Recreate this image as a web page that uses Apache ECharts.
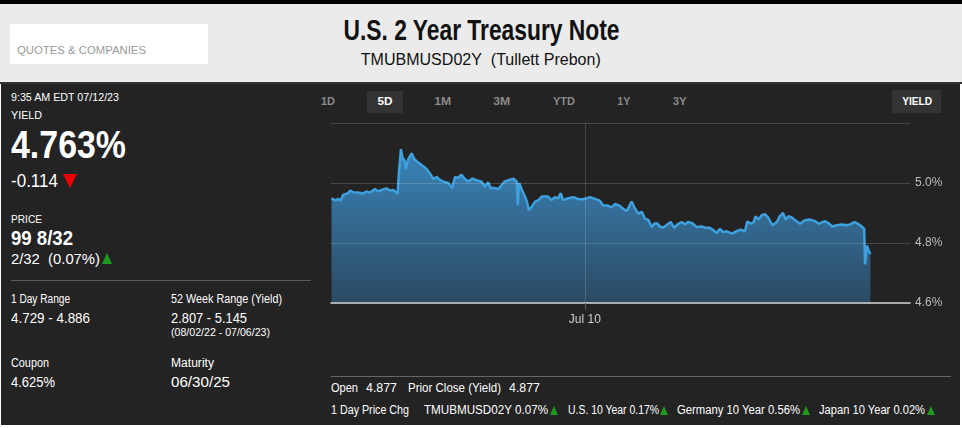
<!DOCTYPE html>
<html>
<head>
<meta charset="utf-8">
<script src="https://cdn.jsdelivr.net/npm/echarts@6/dist/echarts.min.js"></script>
<style>
html,body{margin:0;padding:0;width:962px;height:428px;overflow:hidden;background:#fff;}
body{position:relative;font-family:"Liberation Sans",Arial,sans-serif;}
#topbar{position:absolute;left:0;top:0;width:962px;height:4px;background:#000;}
#header{position:absolute;left:0;top:4px;width:962px;height:78px;background:#ebebeb;border-bottom:2px solid #333;}
#qc{position:absolute;left:10px;top:20px;width:198px;height:40px;background:#fff;}
#panel{position:absolute;left:1px;top:84px;width:959px;height:341px;background:#232323;}
.t{position:absolute;white-space:nowrap;color:#fff;line-height:1;}
.b{font-weight:bold;}
.btn{position:absolute;top:96px;font-size:11px;line-height:1;font-weight:bold;color:#8a8a8a;white-space:nowrap;}
.tri{position:absolute;width:0;height:0;border-left:4px solid transparent;border-right:4px solid transparent;border-bottom:9px solid #1f9a1f;}
#chart{position:absolute;left:0;top:0;width:962px;height:428px;}
</style>
</head>
<body>
<div id="topbar"></div>
<div id="header">
  <div id="qc"></div>
</div>
<div class="t" style="left:17px;top:45px;font-size:11.5px;color:#9a9a9a;" data-w="129">QUOTES &amp; COMPANIES</div>
<div class="t b" style="top:15px;font-size:30px;color:#111;" data-w="276" data-c="481">U.S. 2 Year Treasury Note</div>
<div class="t" style="top:52px;font-size:16px;color:#111;" data-w="240" data-c="481">TMUBMUSD02Y&nbsp;&nbsp;(Tullett Prebon)</div>
<div id="panel"></div>

<div class="t" style="left:11px;top:91.5px;font-size:11px;" data-w="108">9:35 AM EDT 07/12/23</div>
<div class="t" style="left:11px;top:109.5px;font-size:11px;" data-w="31">YIELD</div>
<div class="t b" style="left:11px;top:125px;font-size:39px;" data-w="115">4.763%</div>
<div class="t" style="left:11px;top:172px;font-size:18.5px;" data-w="47">-0.114</div>
<div style="position:absolute;left:63px;top:174px;width:0;height:0;border-left:7px solid transparent;border-right:7px solid transparent;border-top:14px solid #e00;"></div>
<div class="t" style="left:11px;top:213.5px;font-size:11px;" data-w="31">PRICE</div>
<div class="t b" style="left:11px;top:229px;font-size:19.5px;" data-w="62">99 8/32</div>
<div class="t" style="left:11px;top:252px;font-size:14px;" data-w="89">2/32&nbsp;&nbsp;(0.07%)</div>
<div style="position:absolute;left:102px;top:253px;width:0;height:0;border-left:5.5px solid transparent;border-right:5.5px solid transparent;border-bottom:11px solid #1f9a1f;"></div>
<div style="position:absolute;left:11px;top:280px;width:300px;height:1px;background:#5c5c5c;"></div>
<div class="t" style="left:11px;top:293px;font-size:12px;" data-w="59">1 Day Range</div>
<div class="t" style="left:11px;top:309.5px;font-size:15px;" data-w="79">4.729 - 4.886</div>
<div class="t" style="left:171px;top:293px;font-size:12px;" data-w="111">52 Week Range (Yield)</div>
<div class="t" style="left:171px;top:309.5px;font-size:15px;" data-w="76">2.807 - 5.145</div>
<div class="t" style="left:171px;top:327px;font-size:10.5px;" data-w="99">(08/02/22 - 07/06/23)</div>
<div class="t" style="left:11px;top:356.5px;font-size:12px;" data-w="38">Coupon</div>
<div class="t" style="left:11px;top:373.5px;font-size:15px;" data-w="44">4.625%</div>
<div class="t" style="left:171px;top:356.5px;font-size:12px;" data-w="43">Maturity</div>
<div class="t" style="left:171px;top:373.5px;font-size:15px;" data-w="59">06/30/25</div>

<div class="btn" data-w="14" data-c="328">1D</div>
<div style="position:absolute;left:367px;top:91px;width:36px;height:22px;background:#333;"></div>
<div class="btn" style="color:#fff;" data-w="15" data-c="385">5D</div>
<div class="btn" data-w="17" data-c="443">1M</div>
<div class="btn" data-w="17" data-c="502">3M</div>
<div class="btn" data-w="22" data-c="564">YTD</div>
<div class="btn" data-w="13" data-c="624">1Y</div>
<div class="btn" data-w="14" data-c="680">3Y</div>
<div style="position:absolute;left:892px;top:90px;width:49px;height:23px;background:#333;"></div>
<div class="btn" style="color:#fff;" data-w="30" data-c="917">YIELD</div>

<div style="position:absolute;left:331px;top:376px;width:620px;height:1px;background:#666;"></div>
<div class="t" style="left:331px;top:382px;font-size:12.5px;" data-w="27">Open</div>
<div class="t" style="left:366px;top:382px;font-size:12.5px;" data-w="31">4.877</div>
<div class="t" style="left:408px;top:382px;font-size:12.5px;" data-w="93">Prior Close (Yield)</div>
<div class="t" style="left:509px;top:382px;font-size:12.5px;" data-w="31">4.877</div>
<div class="t" style="left:331px;top:404px;font-size:12.5px;" data-w="78">1 Day Price Chg</div>
<div class="t" style="left:424px;top:404px;font-size:12.5px;" data-w="124">TMUBMUSD02Y 0.07%</div>
<div class="tri" style="left:550px;top:406px;"></div>
<div class="t" style="left:568px;top:404px;font-size:12.5px;" data-w="91">U.S. 10 Year 0.17%</div>
<div class="tri" style="left:660px;top:406px;"></div>
<div class="t" style="left:677px;top:404px;font-size:12.5px;" data-w="123">Germany 10 Year 0.56%</div>
<div class="tri" style="left:802px;top:406px;"></div>
<div class="t" style="left:819px;top:404px;font-size:12.5px;" data-w="106">Japan 10 Year 0.02%</div>
<div class="tri" style="left:927px;top:406px;"></div>

<div id="chart"></div>
<script>
// fit condensed text widths (layout only)
document.querySelectorAll('[data-w]').forEach(function(el){
  var w = el.getBoundingClientRect().width;
  var target = parseFloat(el.getAttribute('data-w'));
  var s = target / w;
  var c = el.getAttribute('data-c');
  if (c !== null) {
    el.style.left = (parseFloat(c) - w/2) + 'px';
    el.style.transformOrigin = '50% 0';
  } else {
    el.style.transformOrigin = '0 0';
  }
  el.style.transform = 'scaleX(' + s.toFixed(4) + ')';
});

// Trading hours elapsed since start of the 5-day window (weekend removed)
const hours = [0.1,0.8,1.5,2.0,2.5,3.5,4.0,4.6,5.6,6.7,7.3,8.1,9.1,9.8,10.5,11.5,12.2,12.9,13.8,14.1,14.5,14.8,15.3,15.5,16.0,16.7,17.3,18.1,19.1,19.8,20.5,21.2,21.9,22.5,23.2,24.3,25.1,25.7,26.4,27.0,27.7,28.4,29.3,30.2,31.2,31.9,32.6,33.1,34.0,34.7,35.4,36.0,37.1,37.8,38.2,38.5,38.7,39.0,39.3,39.7,40.2,40.6,41.0,41.6,42.3,43.0,43.7,44.4,45.0,45.7,46.4,47.1,47.6,48.1,49.2,50.2,51.2,52.3,53.7,54.7,55.7,56.4,57.5,58.2,58.9,59.9,60.6,61.3,62.3,63.0,63.7,64.4,65.1,65.8,66.5,67.0,67.5,68.2,68.8,69.5,70.4,71.1,72.0,72.7,73.4,74.0,74.9,75.8,76.8,77.5,78.4,79.2,79.9,80.6,81.3,82.0,83.1,84.0,84.9,85.8,86.3,87.0,87.6,88.0,88.6,89.3,89.9,90.6,91.5,92.4,93.0,93.7,94.2,94.8,95.5,96.2,97.2,98.2,99.3,100.3,101.1,102.3,103.1,103.9,104.8,105.9,106.9,107.6,108.5,109.4,110.0,110.5,110.7,111.1,111.4,111.8];
const yields = [4.949,4.942,4.947,4.941,4.960,4.966,4.975,4.969,4.968,4.965,4.972,4.968,4.980,4.972,4.977,4.982,4.975,4.977,4.964,5.039,5.113,5.085,5.073,5.045,5.079,5.099,5.079,5.068,5.056,5.047,5.032,5.014,5.020,5.011,5.005,5.000,4.983,5.020,5.017,5.028,5.014,5.005,5.015,5.009,5.004,4.988,5.002,4.983,4.983,4.980,4.994,5.005,5.011,5.014,5.020,5.005,4.926,5.000,5.002,4.972,4.955,4.938,4.909,4.921,4.938,4.943,4.955,4.955,4.955,4.943,4.953,4.949,4.966,4.943,4.949,4.953,4.947,4.946,4.953,4.947,4.941,4.926,4.924,4.919,4.930,4.924,4.913,4.907,4.938,4.915,4.898,4.904,4.881,4.876,4.853,4.864,4.866,4.855,4.851,4.859,4.870,4.851,4.864,4.870,4.862,4.870,4.866,4.853,4.855,4.851,4.851,4.844,4.833,4.847,4.836,4.839,4.831,4.839,4.844,4.839,4.872,4.864,4.870,4.889,4.878,4.893,4.896,4.885,4.859,4.870,4.889,4.900,4.878,4.889,4.885,4.876,4.864,4.876,4.878,4.873,4.864,4.873,4.866,4.855,4.859,4.862,4.859,4.862,4.870,4.862,4.855,4.847,4.729,4.791,4.776,4.763];
const xTickValues = [52.6];
const xTickLabels = ['Jul 10'];
const xMin = 0, xMax = 120;
const yMin = 4.6, yMax = 5.2, yStep = 0.2;

const chart = echarts.init(document.getElementById('chart'), null, {renderer:'canvas'});
chart.setOption({
  animation:false,
  backgroundColor:'transparent',
  grid:{left:331,right:52,top:123,bottom:125},
  xAxis:{
    type:'value', min:xMin, max:xMax, z:3,
    axisLine:{show:true,lineStyle:{color:'#d0d0d0',width:1.5}},
    axisTick:{show:true,customValues:xTickValues,length:7,lineStyle:{color:'#5a5a5a'}},
    axisLabel:{customValues:xTickValues,margin:11,color:'#cfcfcf',fontSize:12,fontFamily:'Liberation Sans, Arial, sans-serif',
      formatter:function(v){const i=xTickValues.indexOf(v);return i>=0?xTickLabels[i]:'';}},
    splitLine:{show:true,lineStyle:{color:'rgba(255,255,255,0.16)',width:1}}
  },
  yAxis:{
    type:'value', position:'right', min:yMin, max:yMax, interval:yStep, z:3,
    axisLine:{show:false}, axisTick:{show:false},
    axisLabel:{margin:5,color:'#bdbdbd',fontSize:12,fontFamily:'Liberation Sans, Arial, sans-serif',showMaxLabel:false,
      formatter:function(v){return v.toFixed(1)+'%';}},
    splitLine:{show:true,lineStyle:{color:'rgba(255,255,255,0.16)',width:1}}
  },
  series:[{
    type:'line', showSymbol:false, z:2,
    data:hours.map((h,i)=>[h,yields[i]]),
    lineStyle:{color:'#3ea0de',width:2.5},
    areaStyle:{origin:'start',opacity:1,color:new echarts.graphic.LinearGradient(0,0,0,1,[
      {offset:0,color:'#3a84b9'},{offset:1,color:'#2b4a63'}])}
  }]
});
</script>
</body>
</html>
